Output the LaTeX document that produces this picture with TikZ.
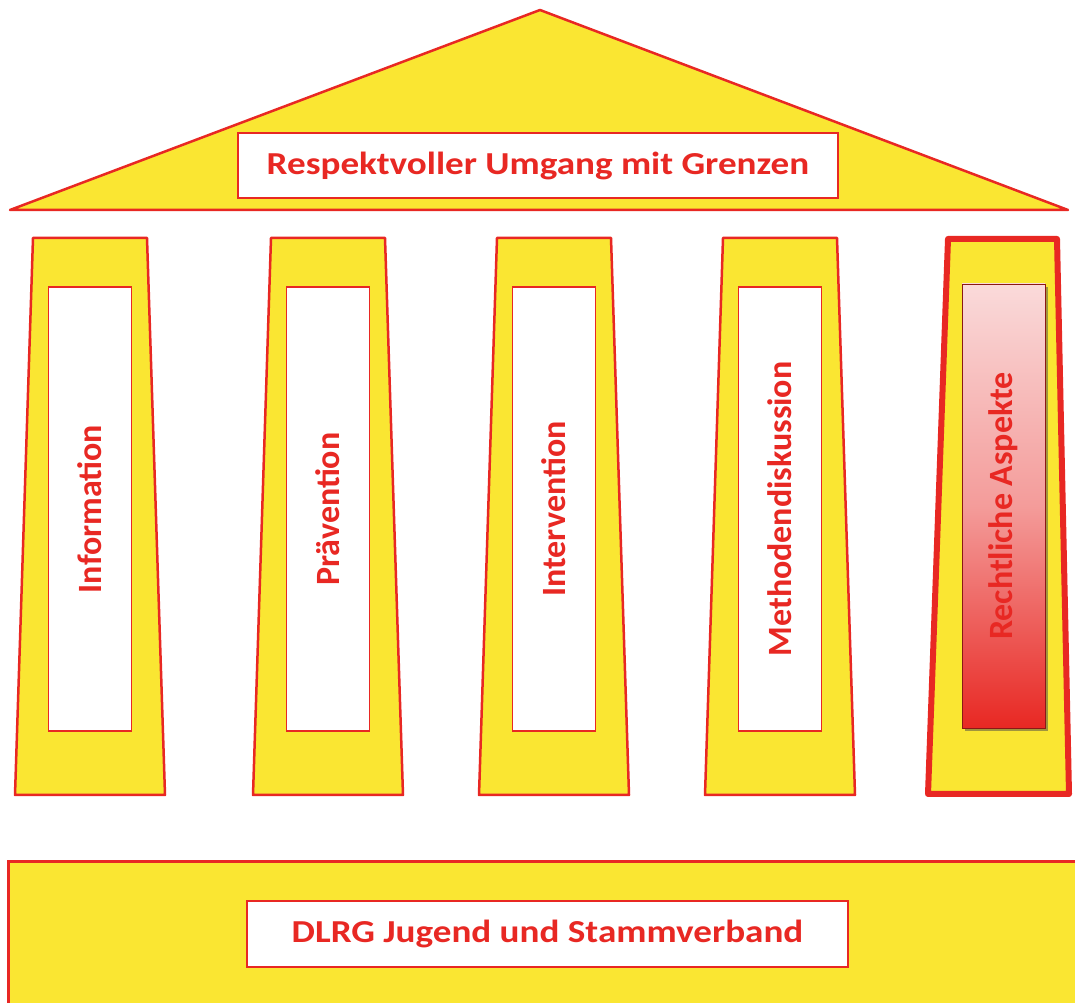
\documentclass[tikz,border=0pt]{standalone}
\usepackage{fontspec}
\setmainfont{Carlito}
\newfontfamily\breit[FakeStretch=1.16]{Carlito}
\usetikzlibrary{shadows}
\definecolor{gelb}{RGB}{250,230,50}
\definecolor{rot}{RGB}{232,40,35}
\definecolor{rosa}{RGB}{250,218,218}

\begin{document}
\begin{tikzpicture}[x=1pt,y=1pt,
  saeule/.style={fill=gelb,draw=rot,line width=2.5pt,line join=round},
  schild/.style={draw=rot,line width=1.2pt,fill=white,text=rot,
    font=\breit\bfseries\fontsize{32}{32}\selectfont,inner sep=0pt},
  stab/.style={schild,rotate=90,minimum width=444pt,minimum height=83pt,
    font=\bfseries\fontsize{34}{34}\selectfont}]
\useasboundingbox (0,0) rectangle (1075,1003);

% Dach
\filldraw[saeule] (10,793) -- (540,993) -- (1068,793) -- cycle;
\node[schild,minimum width=600pt,minimum height=65pt] (dach) at (538,837.5)
  {Respektvoller Umgang mit Grenzen};

% Saeulen
\foreach \x/\n/\t in {90/info/Information,328/praev/Prävention,
    554/inter/Intervention,780/meth/Methodendiskussion}{
  \filldraw[saeule] (\x-57,765) -- (\x+57,765) -- (\x+75,208) -- (\x-75,208) -- cycle;
  \node[stab] (\n) at (\x,494) {\t};
}

% hervorgehobene Saeule
\filldraw[saeule,line width=6pt] (948,764) -- (1057,764) -- (1069,209) -- (928,209) -- cycle;
\node[stab,draw=rot!60!black,line width=.8pt,top color=rosa,bottom color=rot,
  middle color=rot!35!rosa,
  drop shadow={shadow xshift=3pt,shadow yshift=-3pt,opacity=.6,fill=black!70!yellow}]
  (recht) at (1003.5,497) {Rechtliche Aspekte};

% Fundament
\fill[gelb] (8,141) rectangle (1075,0);
\draw[rot,line width=3pt] (1075,141) -- (8,141) -- (8,0);
\node[schild,minimum width=601pt,minimum height=66pt] (basis) at (547.5,69)
  {DLRG Jugend und Stammverband};

\end{tikzpicture}
\end{document}
